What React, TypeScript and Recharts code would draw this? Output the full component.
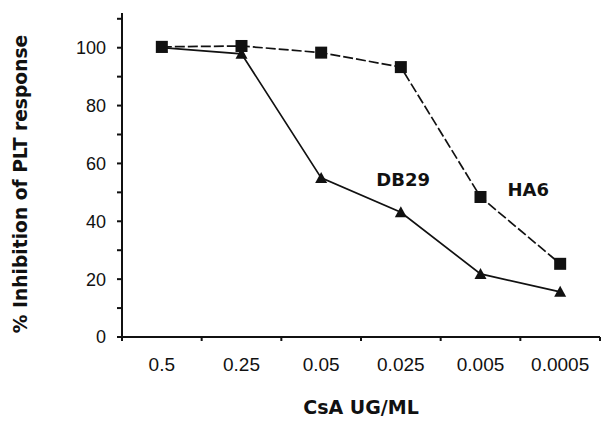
import { LineChart, Line, XAxis, YAxis, ReferenceDot } from "recharts";

const doses = ["0.5", "0.25", "0.05", "0.025", "0.005", "0.0005"];
const ha6 = [100.3, 100.6, 98.3, 93.3, 48.4, 25.3];
const db29 = [100, 97.9, 55, 43.1, 21.8, 15.6];
const yTicks = [0, 10, 20, 30, 40, 50, 60, 70, 80, 90, 100, 110];
// band edges (tick marks) and band centres (labels)
const xTicks = [-0.5, 0, 0.5, 1, 1.5, 2, 2.5, 3, 3.5, 4, 4.5, 5, 5.5];
const seriesLabels = [
  { name: "DB29", x: 3.03, y: 54.3 },
  { name: "HA6", x: 4.6, y: 50.9 },
];

const data = doses.map((dose, i) => ({ x: i, dose, ha6: ha6[i], db29: db29[i] }));

const ink = "#111";
const bold = { fontFamily: "'DejaVu Sans', sans-serif", fontWeight: 700, fontSize: 18, fill: ink };

function DoseTick(props: any) {
  const { x, y, payload } = props;
  const v = payload.value;
  if (Number.isInteger(v)) {
    return (
      <text x={x} y={y + 34} textAnchor="middle" fontFamily="'Liberation Sans', Arial, sans-serif" fontSize={19} fill={ink}>
        {doses[v]}
      </text>
    );
  }
  return <line x1={x} x2={x} y1={y} y2={y + 4} stroke={ink} strokeWidth={2} />;
}

function YTitle(props: any) {
  const { viewBox } = props;
  const x = viewBox.x + 20;
  const y = viewBox.y + viewBox.height / 2 + 9;
  return (
    <text
      x={x}
      y={y}
      dy={7}
      transform={`rotate(-90, ${x}, ${y})`}
      textAnchor="middle"
      {...bold}
      fontSize={18.7}
    >
      % Inhibition of PLT response
    </text>
  );
}

function Square(props: any) {
  const { cx, cy } = props;
  if (cx == null || cy == null) return null;
  return <rect x={cx - 6} y={cy - 6} width={12} height={12} fill={ink} />;
}

function Triangle(props: any) {
  const { cx, cy } = props;
  if (cx == null || cy == null) return null;
  return <polygon points={`${cx},${cy - 6} ${cx - 6},${cy + 5} ${cx + 6},${cy + 5}`} fill={ink} />;
}

export default function App() {
  return (
    <div style={{ position: "absolute", left: 0, top: 0, background: "#fff" }}>
      <LineChart width={610} height={427} data={data} margin={{ top: 13, right: 10, bottom: 0, left: 0 }}>
        <XAxis
          dataKey="x"
          type="number"
          domain={[-0.5, 5.5]}
          ticks={xTicks}
          interval={0}
          tickLine={false}
          tickSize={0}
          tickMargin={0}
          tick={<DoseTick />}
          height={90}
          axisLine={{ stroke: ink, strokeWidth: 2 }}
          label={{ value: "CsA UG/ML", position: "insideBottom", offset: 13, style: { ...bold, fontSize: 19 } }}
        />
        <YAxis
          domain={[0, 112]}
          ticks={yTicks}
          interval={0}
          width={122}
          tickSize={5}
          tickMargin={11}
          tickFormatter={(v: number) => (v % 20 === 0 ? String(v) : "")}
          tick={{ fontFamily: "'Liberation Sans', Arial, sans-serif", fontSize: 18, fill: ink }}
          tickLine={{ stroke: ink, strokeWidth: 2 }}
          axisLine={{ stroke: ink, strokeWidth: 2 }}
          label={<YTitle />}
        />
        <Line
          dataKey="ha6"
          stroke={ink}
          strokeWidth={1.7}
          strokeDasharray="10 3"
          dot={<Square />}
          isAnimationActive={false}
        />
        <Line dataKey="db29" stroke={ink} strokeWidth={1.7} dot={<Triangle />} isAnimationActive={false} />
        {seriesLabels.map((s) => (
          <ReferenceDot
            key={s.name}
            x={s.x}
            y={s.y}
            r={1}
            fill="none"
            stroke="none"
            label={{ value: s.name, position: "center", style: bold }}
          />
        ))}
      </LineChart>
    </div>
  );
}
